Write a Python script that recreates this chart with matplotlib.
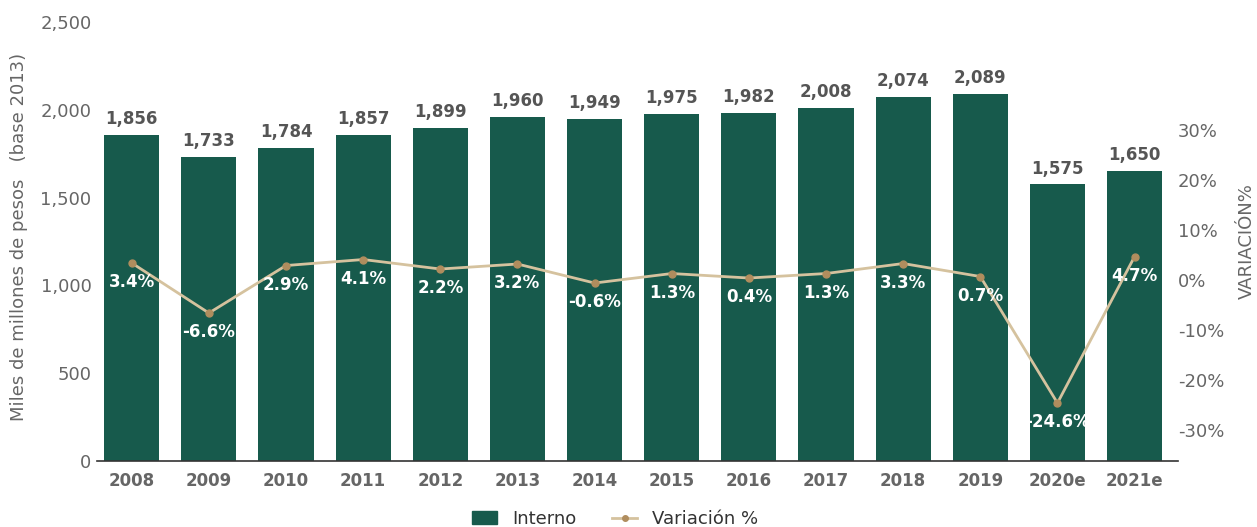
import matplotlib
matplotlib.use("Agg")
import matplotlib.pyplot as plt
from matplotlib.lines import Line2D
from matplotlib.patches import Patch

# Datos del gráfico
anios = ["2008", "2009", "2010", "2011", "2012", "2013", "2014",
         "2015", "2016", "2017", "2018", "2019", "2020e", "2021e"]
interno = [1856, 1733, 1784, 1857, 1899, 1960, 1949,
           1975, 1982, 2008, 2074, 2089, 1575, 1650]
variacion = [3.4, -6.6, 2.9, 4.1, 2.2, 3.2, -0.6,
             1.3, 0.4, 1.3, 3.3, 0.7, -24.6, 4.7]

VERDE = "#175A4C"
LINEA = "#D5C29E"
PUNTO = "#B08D5E"
GRIS = "#666666"

plt.rcParams["font.family"] = ["DejaVu Sans"]

fig = plt.figure(figsize=(12.57, 5.27), dpi=100)
ax = fig.add_axes([0.0772, 0.1252, 0.8598, 0.833])

x = range(len(anios))
ax.bar(x, interno, width=0.714, color=VERDE, zorder=2)
ax.set_xlim(-0.45, len(anios) - 1 + 0.56)
ax.set_ylim(0, 2500)
ax.set_yticks([0, 500, 1000, 1500, 2000, 2500])
ax.set_yticklabels([f"{v:,}" for v in [0, 500, 1000, 1500, 2000, 2500]])
ax.set_xticks(list(x))
ax.set_xticklabels(anios, fontweight="bold")
ax.tick_params(axis="y", length=0, pad=4, labelsize=13, labelcolor=GRIS)
ax.tick_params(axis="x", length=0, pad=8, labelsize=12, labelcolor=GRIS)
for s in ["top", "left", "right"]:
    ax.spines[s].set_visible(False)
ax.spines["bottom"].set_color("#333333")
ax.spines["bottom"].set_linewidth(1.2)

for i, v in enumerate(interno):
    ax.annotate(f"{v:,}", (i, v), xytext=(0, 5), textcoords="offset points",
                ha="center", va="bottom", fontsize=12, fontweight="bold",
                color="#555555")

ax.set_ylabel("Miles de millones de pesos   (base 2013)", fontsize=13,
              color=GRIS)
ax.yaxis.set_label_coords(-0.064, 0.51)

ax2 = ax.twinx()
ax2.plot(list(x), variacion, color=LINEA, lw=2, marker="o", ms=5,
         markerfacecolor=PUNTO, markeredgecolor=PUNTO, zorder=3)
ax2.set_ylim(-36.2, 51.6)
ax2.set_yticks([-30, -20, -10, 0, 10, 20, 30])
ax2.set_yticklabels([f"{t}%" for t in [-30, -20, -10, 0, 10, 20, 30]])
ax2.tick_params(axis="y", length=0, pad=0, labelsize=13, labelcolor=GRIS)
for s in ["top", "left", "right", "bottom"]:
    ax2.spines[s].set_visible(False)
ax2.set_ylabel("VARIACIÓN%", fontsize=13, color=GRIS, rotation=90)
ax2.yaxis.set_label_coords(1.056, 0.5)

for i, v in enumerate(variacion):
    ax2.annotate(f"{v}%", (i, v), xytext=(0, -14), textcoords="offset points",
                 ha="center", va="center", fontsize=12, fontweight="bold",
                 color="white", zorder=4)

handles = [Patch(color=VERDE),
           Line2D([0], [0], color=LINEA, lw=2, marker="o", ms=4,
                  markerfacecolor=PUNTO, markeredgecolor=PUNTO)]
fig.legend(handles, ["Interno", "Variación %"], loc="center",
           bbox_to_anchor=(615 / 1257, 1 - 519 / 527), ncol=2, frameon=False,
           fontsize=13, handlelength=1.4, columnspacing=2.0,
           labelcolor="#333333")

fig.savefig("out.png", dpi=100)
